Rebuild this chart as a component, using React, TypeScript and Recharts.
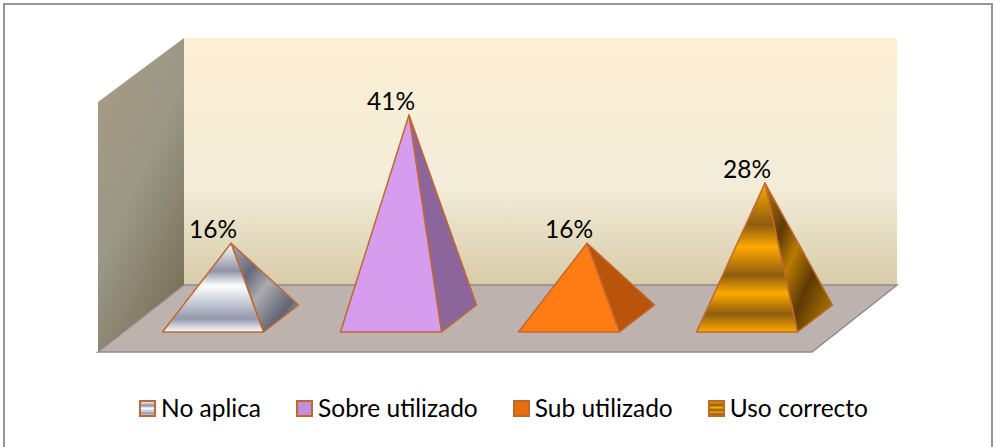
import { BarChart, Bar, XAxis, YAxis, LabelList, Legend } from "recharts";

const categories = ["No aplica", "Sobre utilizado", "Sub utilizado", "Uso correcto"];
const percentValues = [16.49, 41, 16.49, 28];

const chartData = categories.map((name, i) => ({ name, value: percentValues[i] }));

const faceFills = ["url(#silverFront)", "#D69DEE", "#FF7C14", "url(#goldFront)"];
const sideFills = ["url(#silverSide)", "#8C659C", "#B9540A", "url(#goldSide)"];
const swatchFills = ["url(#silverSwatch)", "#C18EDB", "#E86D0E", "url(#goldSwatch)"];
const EDGE = "#C0692F";
const FONT = "Lato, 'Open Sans', sans-serif";

const silverStops = (
  <>
    <stop offset="0" stopColor="#FFFFFF" />
    <stop offset="0.31" stopColor="#8F93A8" />
    <stop offset="0.48" stopColor="#FFFFFF" />
    <stop offset="0.85" stopColor="#9498AD" />
    <stop offset="1" stopColor="#FFFFFF" />
  </>
);

const silverSideStops = (
  <>
    <stop offset="0" stopColor="#A8A9B0" />
    <stop offset="0.3" stopColor="#666A7C" />
    <stop offset="0.5" stopColor="#ABABAE" />
    <stop offset="0.78" stopColor="#5F6373" />
    <stop offset="1" stopColor="#D5D6D8" />
  </>
);

const goldStops = (
  <>
    <stop offset="0" stopColor="#FFAA00" />
    <stop offset="0.28" stopColor="#8F5C10" />
    <stop offset="0.43" stopColor="#FFAA00" />
    <stop offset="0.62" stopColor="#8F5C10" />
    <stop offset="0.74" stopColor="#FFAA00" />
    <stop offset="0.88" stopColor="#8F5C10" />
    <stop offset="1" stopColor="#FFAA00" />
  </>
);

const goldSideStops = (
  <>
    <stop offset="0" stopColor="#B87A00" />
    <stop offset="0.28" stopColor="#5E3A04" />
    <stop offset="0.45" stopColor="#B87A00" />
    <stop offset="0.66" stopColor="#5E3A04" />
    <stop offset="1" stopColor="#C48400" />
  </>
);

// pyramide: face avant + face droite (la base descend un peu sous le zero, comme la perspective 3D)
const BASE_DROP = 2.5;

const Pyramid = (props: any) => {
  const { x, y, width, height, index } = props;
  const base = y + height + BASE_DROP;
  const apexX = x + width / 2 + 18;
  const right = x + width;
  return (
    <g stroke={EDGE} strokeWidth={1.5} strokeLinejoin="round">
      <polygon
        points={`${right},${base} ${right + 35},${base - 27} ${apexX},${y}`}
        fill={sideFills[index]}
      />
      <polygon points={`${x},${base} ${right},${base} ${apexX},${y}`} fill={faceFills[index]} />
    </g>
  );
};

const LegendRow = () => (
  <div
    style={{
      display: "flex",
      justifyContent: "center",
      gap: 35,
      fontFamily: FONT,
      fontSize: 24.5,
      lineHeight: "30px",
      color: "#000",
    }}
  >
    {categories.map((name, i) => (
      <div key={name} style={{ display: "flex", alignItems: "center", gap: 5 }}>
        <svg width={17} height={17}>
          <rect x={1} y={1} width={15} height={15} fill={swatchFills[i]} stroke={EDGE} strokeWidth={2} />
        </svg>
        <span>{name}</span>
      </div>
    ))}
  </div>
);

export default function App() {
  return (
    <div style={{ position: "absolute", left: 0, top: 0, width: 994, height: 447, background: "#fff", overflow: "hidden" }}>
      <div
        style={{
          position: "absolute",
          left: 3,
          top: 3,
          width: 990,
          height: 460,
          border: "2px solid #959595",
          boxSizing: "border-box",
        }}
      />
      <BarChart
        width={994}
        height={447}
        data={chartData}
        margin={{ top: 68, right: 158.5, bottom: 87.5, left: 123.5 }}
        barSize={101}
        style={{ position: "absolute", left: 0, top: 0 }}
      >
        <defs>
          <linearGradient id="wallBack" x1="0" y1="0" x2="0" y2="1">
            <stop offset="0" stopColor="#FEEFD3" />
            <stop offset="0.6" stopColor="#F2ECD9" />
            <stop offset="1" stopColor="#D8CBA8" />
          </linearGradient>
          <linearGradient id="wallLeft" x1="0" y1="0" x2="0.6" y2="1">
            <stop offset="0" stopColor="#A99C84" />
            <stop offset="0.55" stopColor="#9A9786" />
            <stop offset="1" stopColor="#7C735C" />
          </linearGradient>
          <linearGradient id="silverFront" x1="0" y1="0" x2="0" y2="1">{silverStops}</linearGradient>
          <linearGradient id="silverSide" x1="0" y1="0" x2="1" y2="1">{silverSideStops}</linearGradient>
          <linearGradient id="silverSwatch" x1="0" y1="0" x2="0" y2="1">{silverStops}</linearGradient>
          <linearGradient id="goldFront" x1="0" y1="0" x2="0" y2="1">{goldStops}</linearGradient>
          <linearGradient id="goldSide" x1="0" y1="0" x2="1" y2="1">{goldSideStops}</linearGradient>
          <linearGradient id="goldSwatch" x1="0" y1="0" x2="0" y2="1">{goldStops}</linearGradient>
        </defs>
        {/* decor 3D: murs et sol */}
        <rect x={184} y={38} width={713} height={247} fill="url(#wallBack)" />
        <polygon points="98,102 184,38 184,285 98,352" fill="url(#wallLeft)" />
        <polygon
          points="98,352 184,285 897,285 812,352"
          fill="#BEB2AE"
          stroke="#8C8C8C"
          strokeWidth={1.5}
        />
        <XAxis dataKey="name" hide />
        <YAxis hide domain={[0, 50]} />
        <Bar dataKey="value" shape={<Pyramid />} isAnimationActive={false}>
          <LabelList
            dataKey="value"
            position="top"
            offset={5}
            formatter={(v: any) => `${Math.round(v)}%`}
            style={{ fontFamily: FONT, fontSize: 24.5, fill: "#000" }}
          />
        </Bar>
        <Legend
          content={<LegendRow />}
          wrapperStyle={{ position: "absolute", left: 0, top: 393, width: 1007, bottom: "auto" }}
        />
      </BarChart>
    </div>
  );
}
